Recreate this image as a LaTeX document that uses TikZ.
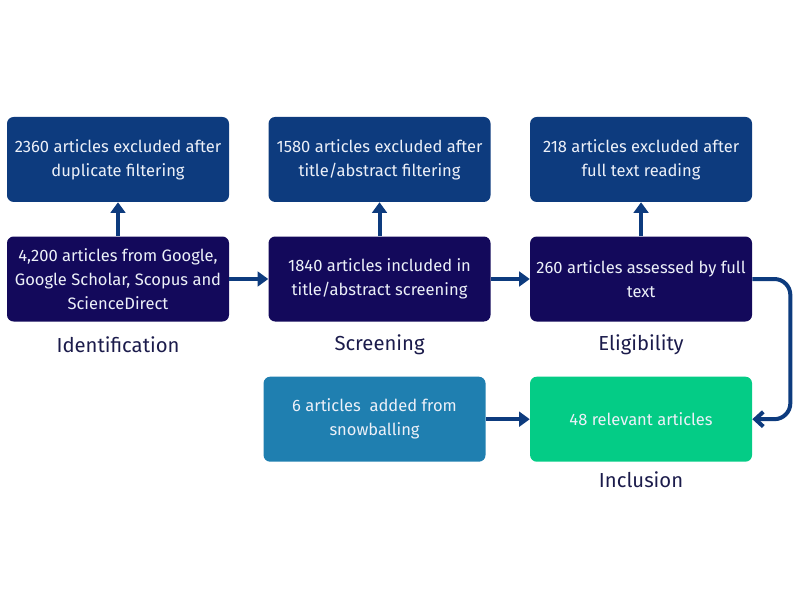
\documentclass[tikz,border=0pt]{standalone}
\usepackage{fontspec}
\setmainfont{Fira Sans}
\usetikzlibrary{positioning, arrows.meta}
\definecolor{topblue}{RGB}{13,59,126}
\definecolor{midnavy}{RGB}{19,9,91}
\definecolor{snowblue}{RGB}{31,127,176}
\definecolor{inclgreen}{RGB}{4,204,134}
\definecolor{lblnavy}{RGB}{27,27,75}
\definecolor{boxtext}{RGB}{236,240,248}

\begin{document}
\begin{tikzpicture}[node distance=29.25pt,
	box/.style={rectangle, rounded corners=5pt, minimum width=166.5pt, minimum height=63.75pt, align=center, text=boxtext, font=\fontsize{12.4}{18}\selectfont},
	excl/.style={box, fill=topblue},
	stage/.style={box, fill=midnavy},
	stagelabel/.style={text=lblnavy, font=\fontsize{15.2}{18}\selectfont},
	arr/.style={-{Triangle[length=8pt,width=11pt]}, draw=topblue, line width=3pt},
	curve/.style={-{Straight Barb[length=6pt,width=11pt]}, draw=topblue, line width=3pt, rounded corners=12pt}]
		\useasboundingbox (0,0) rectangle (600pt,-450pt);
		\node[excl								] (EXCL_DUP) 	at (88.5pt,-119.6pt) {2360 articles excluded after\\duplicate filtering};
		\node[excl, right=of EXCL_DUP			] (EXCL_TA) 	{1580 articles excluded after\\title/abstract filtering};
		\node[excl, right=of EXCL_TA			] (EXCL_FT) 	{218 articles excluded after\\full text reading};

		\node[stage, below=25.5pt of EXCL_DUP	] (IDENT) 		{4,200 articles from Google,\\Google Scholar, Scopus and\\ScienceDirect};
		\node[stage, below=25.5pt of EXCL_TA	] (SCREEN) 		{1840 articles included in\\title/abstract screening};
		\node[stage, below=25.5pt of EXCL_FT	] (ELIG) 		{260 articles assessed by full\\text};

		\node[box, fill=inclgreen, below=41pt of ELIG	] (INCL) 		{48 relevant articles};
		\node[box, fill=snowblue, left=33pt of INCL		] (SNOW) 		{6 articles\ \ added from\\snowballing};

		\node[stagelabel] (L_IDENT) 	at ([yshift=-17pt]IDENT.south) 		{Identification};
		\node[stagelabel] (L_SCREEN) 	at ([yshift=-17pt]SCREEN.south) 	{Screening};
		\node[stagelabel] (L_ELIG) 		at ([yshift=-17pt]ELIG.south) 		{Eligibility};
		\node[stagelabel] (L_INCL) 		at ([yshift=-13.5pt]INCL.south) 	{Inclusion};

		\draw	(IDENT)			edge[arr]	(EXCL_DUP)
				(SCREEN)		edge[arr]	(EXCL_TA)
				(ELIG)			edge[arr]	(EXCL_FT)
				(IDENT)			edge[arr]	(SCREEN)
				(SCREEN)		edge[arr]	(ELIG)
				(SNOW)			edge[arr]	(INCL)
				;
		\draw[curve] (ELIG.east) -- ++(28.5pt,0) |- (INCL.east);

	\end{tikzpicture}
\end{document}
